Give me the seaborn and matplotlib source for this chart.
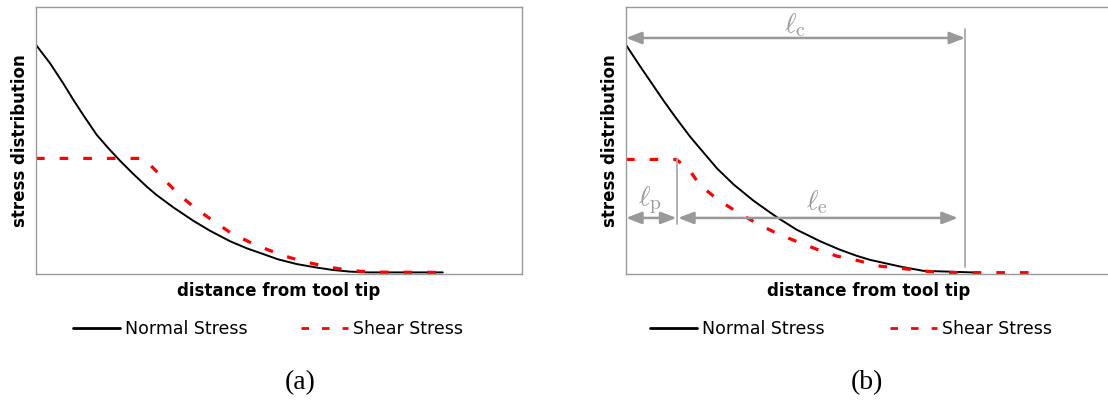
import numpy as np
import pandas as pd
import matplotlib
matplotlib.use("Agg")
import matplotlib.pyplot as plt
import seaborn as sns

# ---------------- data (arbitrary units: x 0-100, y 0-100) ----------------
a_normal_x = [0, 2.9, 5.6, 7.7, 9.7, 12.5, 14.9, 17.3, 20.0, 22.8, 24.8, 28.3, 32.4, 35.8,
              39.9, 43.4, 46.7, 49.8, 53.7, 57.8, 61.1, 64.6, 68.1, 83.7]
a_normal_y = [85.8, 78.9, 71.4, 65.2, 59.6, 52.1, 47.1, 42.4, 37.5, 32.7, 29.6, 24.9, 19.9, 16.2,
              12.3, 9.6, 7.5, 5.5, 3.7, 2.4, 1.5, 0.9, 0.6, 0.6]
a_shear_x = [0, 22.0, 23.4, 25.9, 29.0, 32.4, 36.2, 39.9, 44.0, 48.1, 52.3, 56.7, 60.8, 65.3, 69.8, 83.7]
a_shear_y = [43.3, 43.3, 41.0, 36.4, 30.4, 25.2, 20.2, 15.6, 11.9, 8.8, 6.1, 4.0, 2.4, 1.2, 0.7, 0.6]

b_normal_x = [0, 2.9, 5.6, 7.7, 10.1, 13.2, 15.9, 18.7, 22.1, 26.2, 29.6, 31.7, 35.1, 39.9,
              44.0, 47.5, 50.2, 56.4, 61.1, 72.8]
b_normal_y = [85.8, 77.8, 70.6, 65.0, 58.9, 51.4, 45.6, 39.6, 33.6, 27.5, 23.1, 20.5, 16.6, 12.3,
              9.1, 6.8, 5.3, 2.8, 1.2, 0.5]
b_shear_x = [0, 10.3, 12.8, 15.2, 19.0, 22.8, 26.7, 30.7, 34.8, 39.2, 43.4, 47.8, 51.9, 56.4,
             60.9, 64.6, 68.7, 83.1]
b_shear_y = [42.9, 42.9, 39.6, 33.3, 27.7, 23.3, 19.2, 15.5, 12.4, 9.3, 6.7, 5.0, 3.0, 2.2,
             1.1, 0.7, 0.5, 0.5]

# annotation positions in panel (b)
l_c_end = 69.8
l_c_y = 88.4
l_p_end = 10.4
l_pe_y = 21.0
l_e_end = 68.3

series_names = ["Normal Stress", "Shear Stress"]
xlabel = "distance from tool tip"
ylabel = "stress distribution"
captions = ["(a)", "(b)"]

# ---------------- style ----------------
sns.set_style("white")
plt.rcParams["font.family"] = ["DejaVu Sans"]
plt.rcParams["mathtext.fontset"] = "cm"
plt.rcParams["text.color"] = "black"
plt.rcParams["axes.labelcolor"] = "black"

W, H = 1108, 408
fig = plt.figure(figsize=(W / 100, H / 100), dpi=100)

def px_axes(left, top, width, height):
    return fig.add_axes([left / W, (H - top - height) / H, width / W, height / H])

ax1 = px_axes(36, 7, 486, 267)
ax2 = px_axes(626, 7, 486, 267)

GRAY = "#999999"
RED = "#ff0000"

def draw_panel(ax, nx, ny, sx, sy, leg_x, colsp):
    dfn = pd.DataFrame({"x": nx, "y": ny})
    dfs = pd.DataFrame({"x": sx, "y": sy})
    sns.lineplot(data=dfn, x="x", y="y", ax=ax, color="black", lw=1.4,
                 label=series_names[0], sort=False)
    sns.lineplot(data=dfs, x="x", y="y", ax=ax, color=RED, lw=2.3,
                 label=series_names[1], sort=False)
    ax.lines[-1].set_dashes((2.7, 4.7))
    ax.set_xlim(0, 100)
    ax.set_ylim(0, 100)
    ax.set_xticks([])
    ax.set_yticks([])
    for s in ax.spines.values():
        s.set_color(GRAY)
        s.set_linewidth(1.0)
    ax.set_xlabel(xlabel, fontsize=12, fontweight="bold", labelpad=6)
    ax.set_ylabel(ylabel, fontsize=12, fontweight="bold", labelpad=5)
    leg = ax.legend(loc="center left", bbox_to_anchor=(leg_x, -0.207), ncol=2,
                    frameon=False, fontsize=12.5, handlelength=2.7,
                    handletextpad=0.29, columnspacing=colsp, borderpad=0,
                    borderaxespad=0)
    for h in leg.get_lines():
        h.set_linewidth(2.0)

draw_panel(ax1, a_normal_x, a_normal_y, a_shear_x, a_shear_y, 0.076, 3.1)
draw_panel(ax2, b_normal_x, b_normal_y, b_shear_x, b_shear_y, 0.049, 3.8)

# annotations in panel (b)
arrow_kw = dict(arrowstyle="<|-|>,head_length=0.52,head_width=0.2", color=GRAY, lw=1.8,
                mutation_scale=18, shrinkA=0, shrinkB=0)
ax2.plot([l_c_end, l_c_end], [91.8, 2.6], color="#aaaaaa", lw=1.3)
ax2.plot([l_p_end, l_p_end], [42.9, 18.7], color="#aaaaaa", lw=1.3)
ax2.annotate("", xy=(l_c_end, l_c_y), xytext=(0, l_c_y), arrowprops=arrow_kw)
ax2.annotate("", xy=(l_p_end, l_pe_y), xytext=(0, l_pe_y), arrowprops=arrow_kw)
ax2.annotate("", xy=(l_e_end, l_pe_y), xytext=(l_p_end + 0.3, l_pe_y), arrowprops=arrow_kw)
ax2.text(34.8, 93.3, r"$\ell_{\mathrm{c}}$", color=GRAY, fontsize=20, ha="center", va="center")
ax2.text(4.9, 27.5, r"$\ell_{\mathrm{p}}$", color=GRAY, fontsize=20, ha="center", va="center")
ax2.text(39.3, 27.0, r"$\ell_{\mathrm{e}}$", color=GRAY, fontsize=20, ha="center", va="center")

# captions
fig.text(300 / W, 1 - 383 / H, captions[0], fontsize=20, family="Liberation Serif",
         ha="center", va="center")
fig.text(867 / W, 1 - 383 / H, captions[1], fontsize=20, family="Liberation Serif",
         ha="center", va="center")

fig.savefig("out.png", dpi=100, facecolor="white")
